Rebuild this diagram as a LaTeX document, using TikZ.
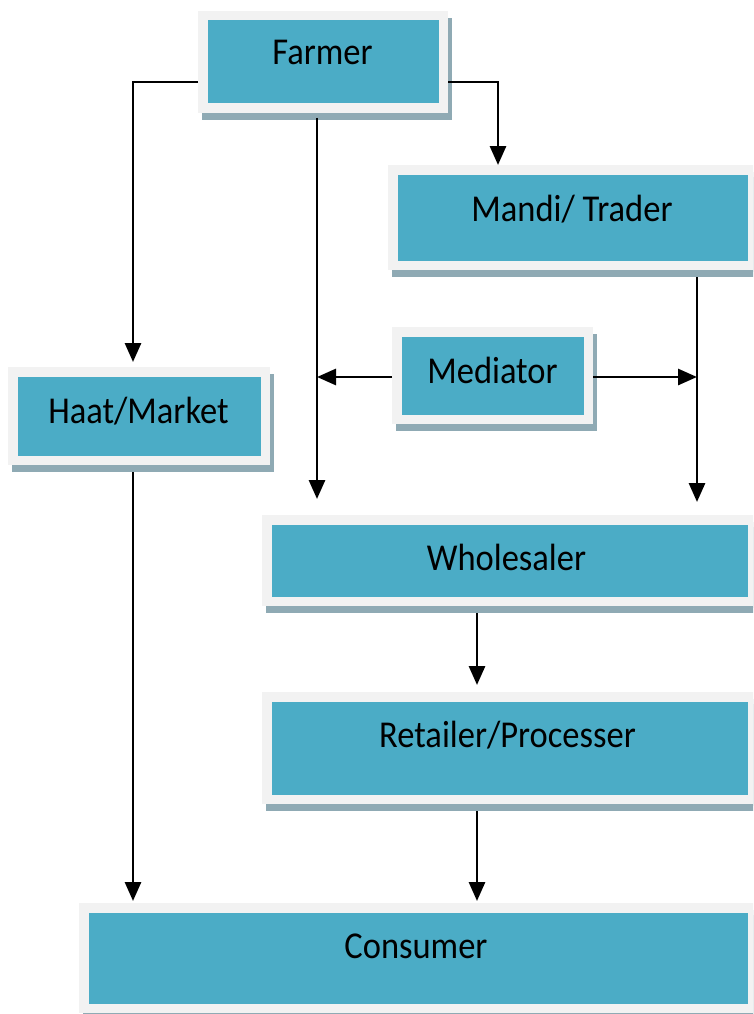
\documentclass[tikz,border=0pt]{standalone}
\usepackage{fontspec}
\usepackage{graphicx}
\setmainfont{Carlito}
\usetikzlibrary{arrows.meta}
\definecolor{boxteal}{RGB}{75,172,198}
\definecolor{framegray}{RGB}{242,242,242}
\definecolor{shadowc}{RGB}{143,170,180}
\newcommand{\boxtext}[1]{\scalebox{1}[1.1]{#1}}
\begin{document}
\begin{tikzpicture}[x=1pt,y=-1pt,
  box/.style={rectangle, fill=boxteal, draw=framegray, line width=9.5pt, inner sep=0pt,
    preaction={draw=shadowc, fill=shadowc, transform canvas={xshift=3.5pt,yshift=-7pt}}},
  lbl/.style={anchor=base, inner sep=0pt, font=\fontsize{34.5}{40}\selectfont, text=black},
  conn/.style={line width=2.9pt, draw=black, -{Triangle[length=19pt,width=16pt]}}]
\useasboundingbox (0,0) rectangle (753,1014);
\fill[white] (0,0) rectangle (753,1014);
\clip (0,0) rectangle (753,1014);

% boxes
\node[box, minimum width=240.5pt, minimum height=92.5pt] (farmer) at (323,62) {};
\node[box, minimum width=359.5pt, minimum height=95.5pt] (mandi) at (572.5,217.5) {};
\node[box, minimum width=191.5pt, minimum height=87.5pt] (mediator) at (492.5,375.5) {};
\node[box, minimum width=252.5pt, minimum height=88.5pt] (haat) at (139,416) {};
\node[box, minimum width=485.5pt, minimum height=81.5pt] (whole) at (509.5,560.5) {};
\node[box, minimum width=485.5pt, minimum height=102.5pt] (retail) at (509.5,748) {};
\node[box, minimum width=668.5pt, minimum height=100.5pt] (consumer) at (418,958) {};

% labels
\node[lbl] (farmer-t) at (322.5,65) {\boxtext{Farmer}};
\node[lbl] (mandi-t) at (572,221) {\boxtext{Mandi/ Trader}};
\node[lbl] (mediator-t) at (492.5,383) {\boxtext{Mediator}};
\node[lbl] (haat-t) at (138.5,423) {\boxtext{Haat/Market}};
\node[lbl] (whole-t) at (506.5,570) {\boxtext{Wholesaler}};
\node[lbl] (retail-t) at (507.5,747) {\boxtext{Retailer/Processer}};
\node[lbl] (consumer-t) at (416,958) {\boxtext{Consumer}};

% junction points on the vertical lines
\coordinate (jl) at (317,377);
\coordinate (jr) at (697,377);

% connectors
\draw[conn, shorten >=5pt] (farmer.west |- 0,82) -| (133,0 |- haat.north);
\draw[conn] (farmer.east |- 0,82) -| (498,0 |- mandi.north);
\draw[conn, shorten <=5pt, shorten >=16pt] (317,0 |- farmer.south) -- (317,0 |- whole.north);
\draw[conn, shorten <=7pt, shorten >=13pt] (697,0 |- mandi.south) -- (697,0 |- whole.north);
\draw[conn] (mediator.west |- jl) -- (jl);
\draw[conn] (mediator.east |- jr) -- (jr);
\draw[conn, shorten <=7pt, shorten >=2pt] (133,0 |- haat.south) -- (133,0 |- consumer.north);
\draw[conn, shorten <=7pt, shorten >=7pt] (477,0 |- whole.south) -- (477,0 |- retail.north);
\draw[conn, shorten <=7pt, shorten >=2pt] (477,0 |- retail.south) -- (477,0 |- consumer.north);
\end{tikzpicture}
\end{document}
